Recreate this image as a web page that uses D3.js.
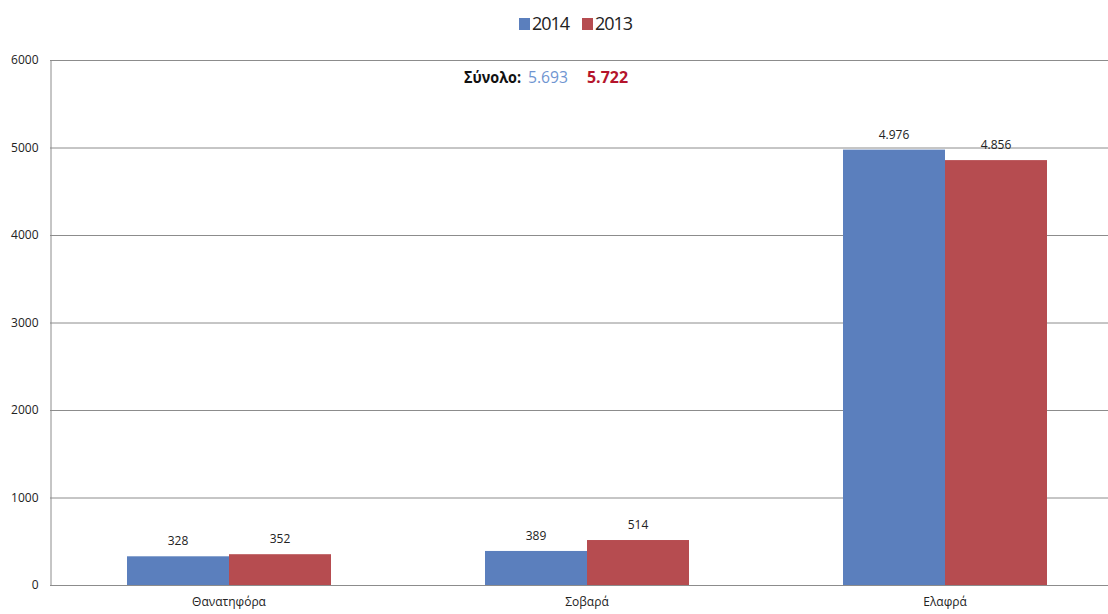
<!DOCTYPE html>
<html>
<head>
<meta charset="utf-8">
<script src="https://cdn.jsdelivr.net/npm/d3@7"></script>
<style>
  html, body { margin: 0; padding: 0; background: #fff; }
  svg { display: block; font-family: "Open Sans", "Liberation Sans", sans-serif; }
</style>
</head>
<body>
<svg id="chart" width="1108" height="614"></svg>
<script>
// Road traffic casualties by severity, 2014 vs 2013
const categories = ["Θανατηφόρα", "Σοβαρά", "Ελαφρά"];
const seriesNames = ["2014", "2013"];
const values2014 = [328, 389, 4976];
const values2013 = [352, 514, 4856];
const valueLabels2014 = ["328", "389", "4.976"];
const valueLabels2013 = ["352", "514", "4.856"];
const yTicks = [0, 1000, 2000, 3000, 4000, 5000, 6000];
const totalLabel = "Σύνολο:";
const totals = ["5.693", "5.722"];

const colors = { "2014": "#5b7fbd", "2013": "#b64c50" };

const svg = d3.select("#chart");
const plotLeft = 50, plotRight = 1124, plotTop = 60, plotBottom = 585;

const x = d3.scaleBand().domain(categories).range([plotLeft, plotRight]).paddingInner(0).paddingOuter(0);
const xInner = d3.scaleBand().domain(seriesNames).range([0, x.bandwidth()]).paddingOuter(0.755).paddingInner(0);
const y = d3.scaleLinear().domain([0, 6000]).range([plotBottom, plotTop]);

// gridlines
svg.append("g")
  .selectAll("line")
  .data(yTicks)
  .join("line")
  .attr("x1", plotLeft).attr("x2", 1108)
  .attr("y1", d => y(d) + 0.5).attr("y2", d => y(d) + 0.5)
  .attr("stroke", "#8c8c8c").attr("stroke-width", 1);

// y axis
const yAxis = d3.axisLeft(y).tickValues(yTicks).tickSize(0).tickPadding(12).tickFormat(d3.format("d"));
svg.append("g")
  .attr("transform", `translate(${plotLeft + 0.5},0)`)
  .call(yAxis)
  .call(g => g.select(".domain").attr("stroke", "#8c8c8c"))
  .call(g => g.selectAll("text").attr("font-size", 12).attr("fill", "#222")
      .attr("font-family", "'Open Sans', sans-serif"));

// bars
const rows = categories.map((c, i) => ({
  cat: c,
  vals: [
    { s: "2014", v: values2014[i], label: valueLabels2014[i] },
    { s: "2013", v: values2013[i], label: valueLabels2013[i] }
  ]
}));

const groups = svg.append("g").selectAll("g")
  .data(rows).join("g")
  .attr("transform", d => `translate(${x(d.cat)},0)`);

groups.selectAll("rect")
  .data(d => d.vals).join("rect")
  .attr("x", d => xInner(d.s))
  .attr("width", xInner.bandwidth())
  .attr("y", d => y(d.v))
  .attr("height", d => y(0) - y(d.v))
  .attr("fill", d => colors[d.s]);

groups.selectAll("text.val")
  .data(d => d.vals).join("text")
  .attr("class", "val")
  .attr("x", d => xInner(d.s) + xInner.bandwidth() / 2)
  .attr("y", d => y(d.v) - 11)
  .attr("text-anchor", "middle")
  .attr("font-size", 12)
  .attr("fill", "#222")
  .text(d => d.label);

// x axis labels
svg.append("g")
  .attr("transform", `translate(0,${plotBottom})`)
  .call(d3.axisBottom(x).tickSize(0).tickPadding(12))
  .call(g => g.select(".domain").remove())
  .call(g => g.selectAll("text").attr("font-size", 12).attr("fill", "#222")
      .attr("font-family", "'Open Sans', sans-serif"));

// legend
const legend = svg.append("g").attr("transform", "translate(519,17)");
const legendX = [0, 63];
seriesNames.forEach((s, i) => {
  const g = legend.append("g").attr("transform", `translate(${legendX[i]},0)`);
  g.append("rect").attr("width", 11).attr("height", 12).attr("y", 1).attr("fill", colors[s]);
  g.append("text").attr("x", 13).attr("y", 13).attr("font-size", 18).attr("fill", "#222")
    .attr("font-family", "'Open Sans', sans-serif").attr("textLength", 38).text(s);
});

// totals annotation
const totals_g = svg.append("g").attr("font-size", 16).attr("font-family", "'Open Sans', sans-serif");
totals_g.append("text").attr("x", 464).attr("y", 83)
  .attr("font-weight", "bold").attr("fill", "#111")
  .attr("textLength", 57).attr("lengthAdjust", "spacingAndGlyphs").text(totalLabel);
totals_g.append("text").attr("x", 528).attr("y", 83).attr("fill", "#6f95d1")
  .attr("textLength", 40).attr("lengthAdjust", "spacingAndGlyphs").text(totals[0]);
totals_g.append("text").attr("x", 587).attr("y", 83).attr("font-weight", "bold").attr("fill", "#b5142c")
  .attr("textLength", 41).attr("lengthAdjust", "spacingAndGlyphs").text(totals[1]);
</script>
</body>
</html>
